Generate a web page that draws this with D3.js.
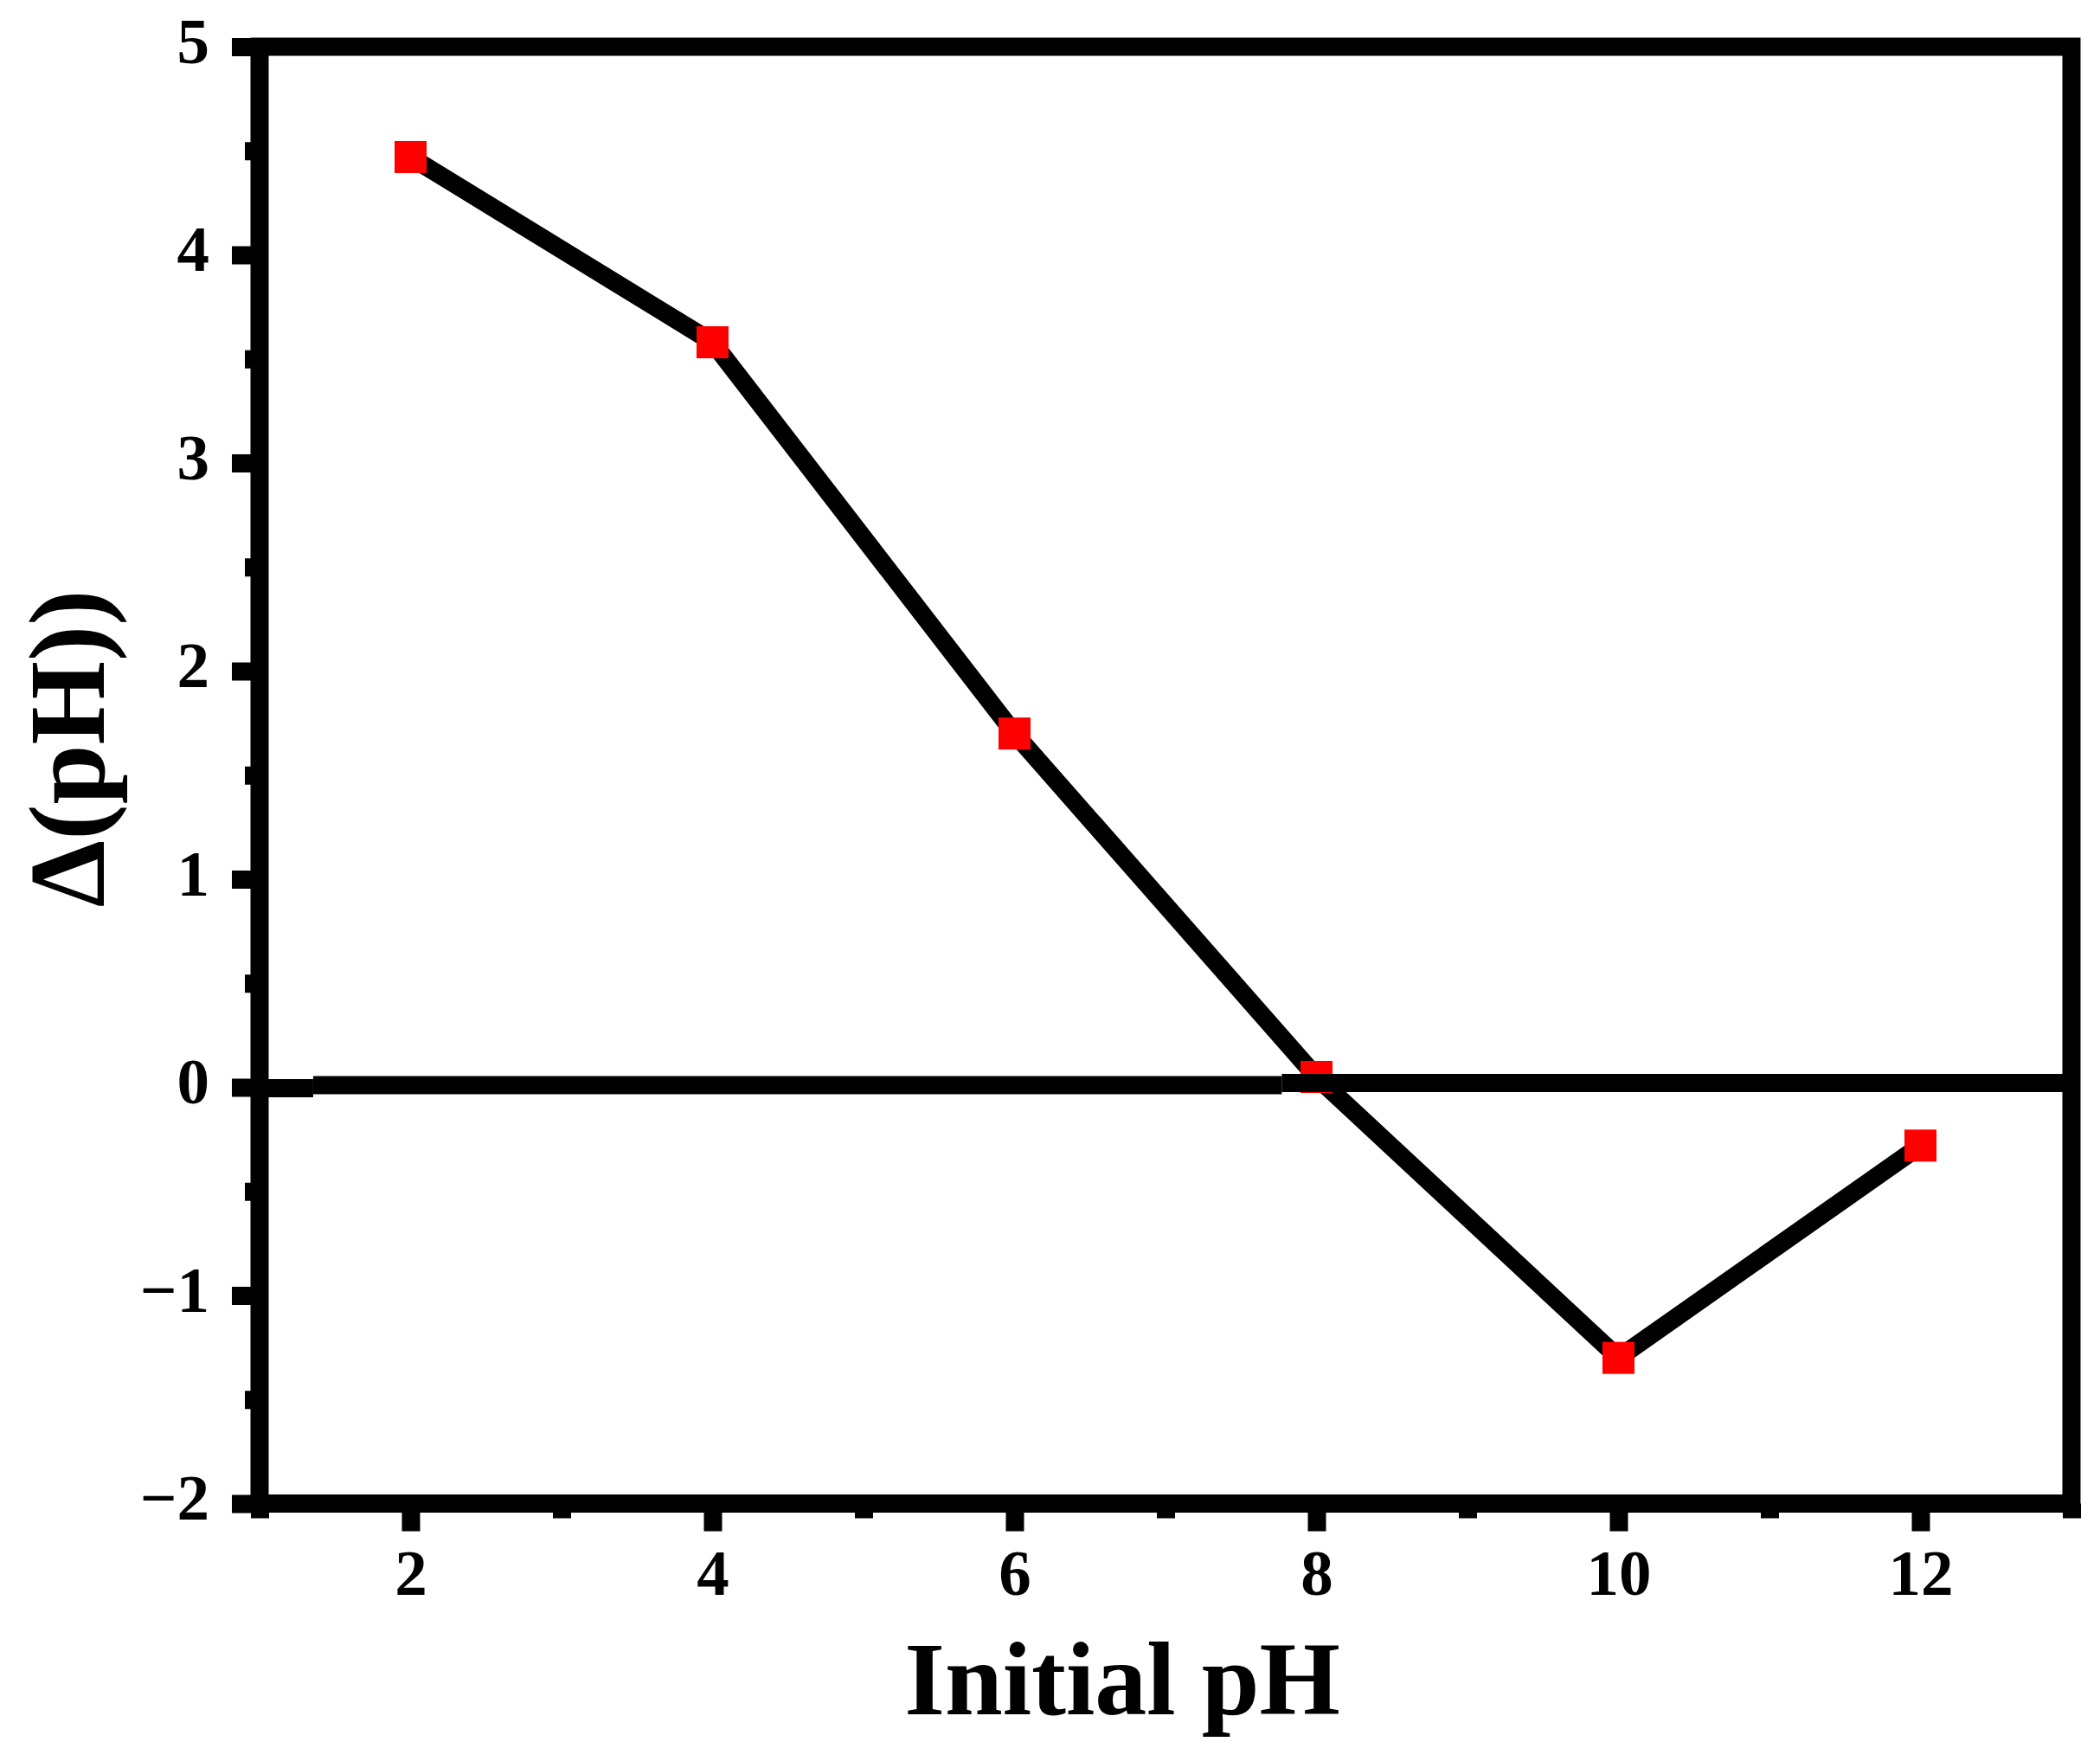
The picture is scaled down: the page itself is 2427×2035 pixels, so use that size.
<!DOCTYPE html>
<html lang="en">
  <head>
    <meta charset="UTF-8" />
    <title>Delta pH vs Initial pH</title>
    <script src="https://d3js.org/d3.v7.min.js"></script>
    <style>
      body {
        margin: 0;
        background: #fff;
      }
      svg {
        display: block;
      }
      .axis text {
        font-family: "Liberation Serif", "Times New Roman", serif;
        font-weight: bold;
        font-size: 75px;
        fill: #000;
      }
      .axis-label {
        font-family: "Liberation Serif", "Times New Roman", serif;
        font-weight: bold;
        fill: #000;
      }
    </style>
  </head>
  <body>
    <svg width="2427" height="2035"></svg>
    <script>
      // Data
      const initialPH = [2, 4, 6, 8, 10, 12];
      const deltaPH = [4.47, 3.58, 1.7, 0.05, -1.3, -0.28];

      // the near-zero reference line is drawn in three slightly offset pieces
      const zeroStart = [1, 1.355, 7.77];
      const zeroEnd = [1.355, 7.77, 13];
      const zeroLevel = [-0.004, 0.01, 0.021];

      const xMajor = [2, 4, 6, 8, 10, 12];
      const xMinor = [1, 3, 5, 7, 9, 11, 13];
      const yMajor = [-2, -1, 0, 1, 2, 3, 4, 5];
      const yMinor = [-1.5, -0.5, 0.5, 1.5, 2.5, 3.5, 4.5];

      const svg = d3.select("svg");
      const lw = 21;

      const x = d3.scaleLinear().domain([1, 13]).range([300, 2394]);
      const y = d3.scaleLinear().domain([-2, 5]).range([1737.5, 54]);

      const fmt = (d) => (d < 0 ? "\u2212" + Math.abs(d) : String(d));

      // Ticks (outward, left and bottom only)
      function styleAxis(g) {
        g.select(".domain").remove();
        g.selectAll(".tick line")
          .attr("stroke", "#000")
          .attr("stroke-width", lw);
      }

      svg.append("g")
        .attr("class", "axis")
        .attr("transform", `translate(${x(1)},0)`)
        .call(d3.axisLeft(y).tickValues(yMinor).tickSize(17).tickFormat(""))
        .call(styleAxis);

      const yAxis = svg.append("g")
        .attr("class", "axis")
        .attr("transform", `translate(${x(1)},0)`)
        .call(d3.axisLeft(y).tickValues(yMajor).tickSize(32).tickPadding(26).tickFormat(fmt))
        .call(styleAxis);
      yAxis.selectAll("text").attr("dy", "0.24em");

      svg.append("g")
        .attr("class", "axis")
        .attr("transform", `translate(0,${y(-2)})`)
        .call(d3.axisBottom(x).tickValues(xMinor).tickSize(17).tickFormat(""))
        .call(styleAxis);

      svg.append("g")
        .attr("class", "axis")
        .attr("transform", `translate(0,${y(-2)})`)
        .call(d3.axisBottom(x).tickValues(xMajor).tickSize(32).tickPadding(20).tickFormat(fmt))
        .call(styleAxis);

      // Frame
      svg.append("rect")
        .attr("x", x(1))
        .attr("y", y(5))
        .attr("width", x(13) - x(1))
        .attr("height", y(-2) - y(5))
        .attr("fill", "none")
        .attr("stroke", "#000")
        .attr("stroke-width", lw);

      // Data line
      const pts = initialPH.map((d, i) => [d, deltaPH[i]]);
      svg.append("path")
        .datum(pts)
        .attr("fill", "none")
        .attr("stroke", "#000")
        .attr("stroke-width", lw)
        .attr("stroke-linejoin", "bevel")
        .attr("d", d3.line().x((d) => x(d[0])).y((d) => y(d[1])));

      // Markers
      const ms = 37;
      svg.append("g")
        .selectAll("rect")
        .data(pts)
        .enter()
        .append("rect")
        .attr("x", (d) => x(d[0]) - ms / 2)
        .attr("y", (d) => y(d[1]) - ms / 2)
        .attr("width", ms)
        .attr("height", ms)
        .attr("fill", "#ff0000");

      // Zero reference line
      svg.append("g")
        .selectAll("line")
        .data(zeroStart)
        .enter()
        .append("line")
        .attr("x1", (d) => x(d))
        .attr("x2", (d, i) => x(zeroEnd[i]))
        .attr("y1", (d, i) => y(zeroLevel[i]))
        .attr("y2", (d, i) => y(zeroLevel[i]))
        .attr("stroke", "#000")
        .attr("stroke-width", lw);

      // Axis titles
      svg.append("text")
        .attr("class", "axis-label")
        .attr("x", 1297)
        .attr("y", 1981)
        .attr("text-anchor", "middle")
        .style("font-size", "120px")
        .text("Initial pH");

      svg.append("text")
        .attr("class", "axis-label")
        .attr("transform", "translate(120,865) rotate(-90)")
        .attr("text-anchor", "middle")
        .style("font-size", "124px")
        .text("\u0394(pH))");
    </script>
  </body>
</html>
